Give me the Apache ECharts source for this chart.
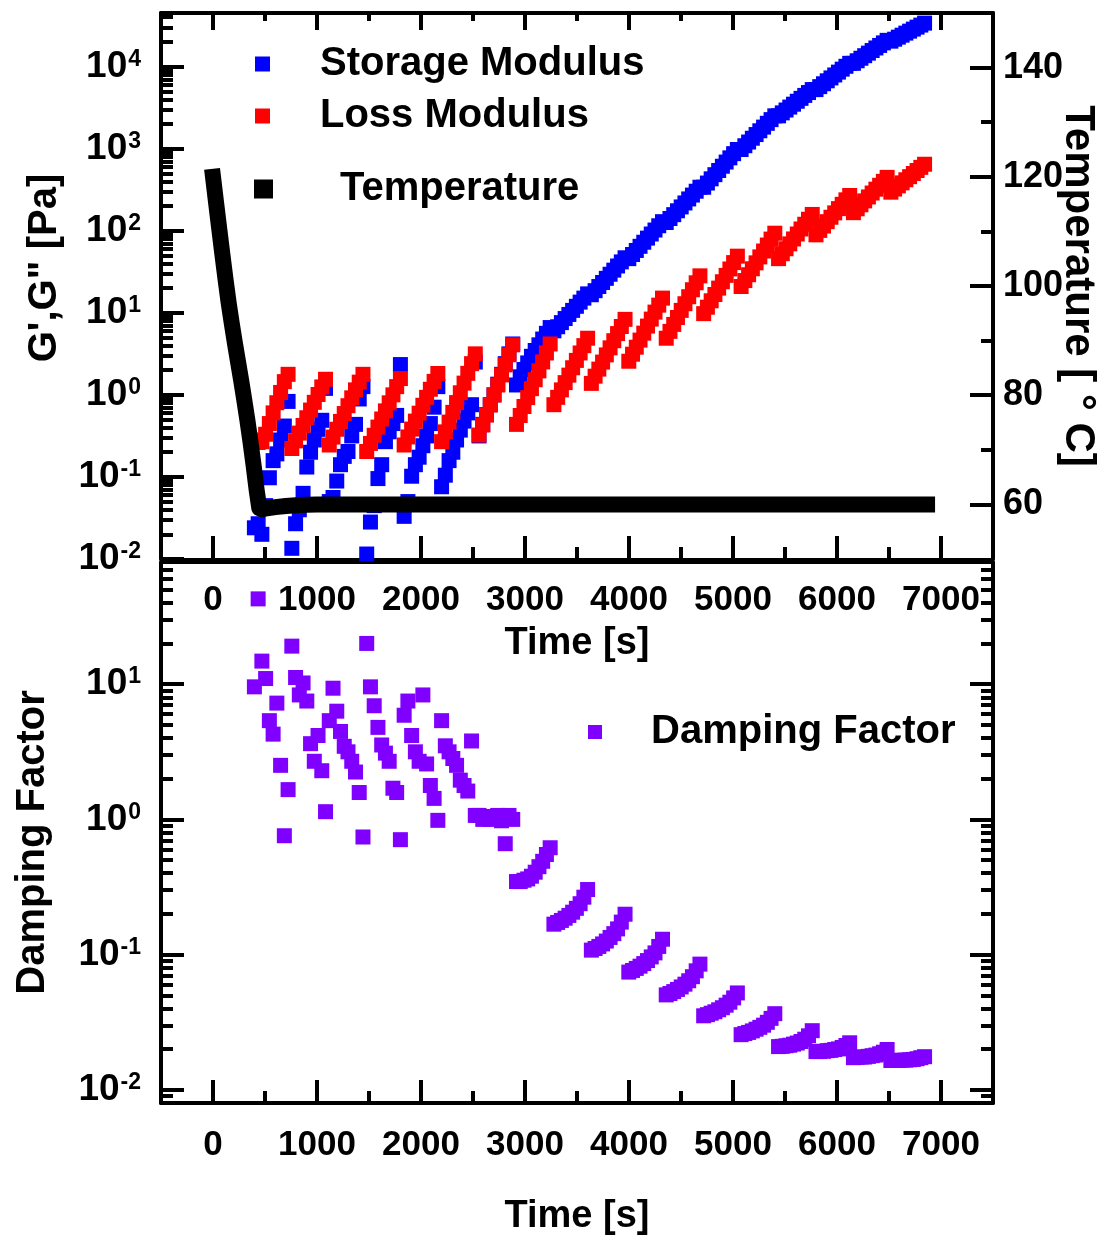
<!DOCTYPE html>
<html>
<head>
<meta charset="utf-8">
<title>Rheology time sweep</title>
<script src="https://cdn.jsdelivr.net/npm/echarts@6/dist/echarts.min.js"></script>
<style>
html, body { margin: 0; padding: 0; background: #ffffff; }
#chart { width: 1108px; height: 1241px; }
</style>
</head>
<body>
<div id="chart"></div>
<script>
// Sample times of the oscillatory measurement [s]
const time = [
  398, 434, 470, 506, 542, 578, 614, 650, 686, 722,
  758, 794, 830, 866, 902, 938, 974, 1010, 1046, 1082,
  1118, 1154, 1190, 1226, 1262, 1298, 1334, 1370, 1406, 1442,
  1478, 1514, 1550, 1586, 1622, 1658, 1694, 1730, 1766, 1802,
  1838, 1874, 1910, 1946, 1982, 2018, 2054, 2090, 2126, 2162,
  2198, 2234, 2270, 2306, 2342, 2378, 2414, 2450, 2486, 2522,
  2558, 2594, 2630, 2666, 2702, 2738, 2774, 2810, 2846, 2882,
  2918, 2954, 2990, 3026, 3062, 3098, 3134, 3170, 3206, 3242,
  3278, 3314, 3350, 3386, 3422, 3458, 3494, 3530, 3566, 3602,
  3638, 3674, 3710, 3746, 3782, 3818, 3854, 3890, 3926, 3962,
  3998, 4034, 4070, 4106, 4142, 4178, 4214, 4250, 4286, 4322,
  4358, 4394, 4430, 4466, 4502, 4538, 4574, 4610, 4646, 4682,
  4718, 4754, 4790, 4826, 4862, 4898, 4934, 4970, 5006, 5042,
  5078, 5114, 5150, 5186, 5222, 5258, 5294, 5330, 5366, 5402,
  5438, 5474, 5510, 5546, 5582, 5618, 5654, 5690, 5726, 5762,
  5798, 5834, 5870, 5906, 5942, 5978, 6014, 6050, 6086, 6122,
  6158, 6194, 6230, 6266, 6302, 6338, 6374, 6410, 6446, 6482,
  6518, 6554, 6590, 6626, 6662, 6698, 6734, 6770, 6806, 6842
];

// Storage modulus G' [Pa]
const storageModulus = [
  0.024, 0.0269, 0.020, 0.0447, 0.0977, 0.158, 0.191, 0.282, 0.417, 0.832,
  0.0135, 0.0269, 0.0398, 0.0631, 0.132, 0.200, 0.282, 0.380, 0.490, 1.20,
  0.0501, 0.0562, 0.0891, 0.141, 0.178, 0.204, 0.316, 0.437, 0.891, 1.26,
  0.0115, 0.0282, 0.0447, 0.0955, 0.141, 0.269, 0.355, 0.447, 0.562, 2.34,
  0.0331, 0.0501, 0.102, 0.141, 0.174, 0.240, 0.316, 0.447, 0.708, 1.26,
  0.0759, 0.105, 0.158, 0.200, 0.282, 0.372, 0.479, 0.603, 0.759, 2.51,
  0.316, 0.437, 0.575, 0.759, 1.00, 1.35, 1.78, 2.40, 3.16, 4.17,
  1.32, 1.66, 2.04, 2.45, 2.95, 3.47, 4.07, 4.79, 5.62, 6.61,
  6.03, 6.76, 7.59, 8.51, 9.55, 10.7, 12.0, 13.5, 15.1, 17.0,
  16.6, 18.6, 20.9, 23.4, 26.3, 29.5, 33.1, 37.2, 41.7, 46.8,
  45.7, 51.3, 57.5, 64.6, 72.4, 81.3, 91.2, 102, 115, 129,
  126, 141, 157, 175, 195, 218, 244, 272, 303, 339,
  339, 381, 429, 482, 542, 611, 687, 773, 869, 977,
  977, 1086, 1205, 1340, 1486, 1652, 1832, 2037, 2259, 2512,
  2512, 2729, 2958, 3214, 3483, 3784, 4102, 4457, 4831, 5248,
  5248, 5702, 6180, 6714, 7278, 7907, 8570, 9311, 10090, 10960,
  10960, 11780, 12650, 13580, 14590, 15700, 16870, 18110, 19450, 20890,
  20420, 21580, 22860, 24150, 25590, 27040, 28640, 30270, 32060, 33880
];

// Loss modulus G'' [Pa]
const lossModulus = [
  0.282, 0.263, 0.269, 0.331, 0.447, 0.603, 0.802, 1.07, 1.45, 1.78,
  0.222, 0.275, 0.342, 0.424, 0.526, 0.653, 0.811, 1.01, 1.25, 1.55,
  0.245, 0.306, 0.381, 0.475, 0.592, 0.738, 0.920, 1.15, 1.43, 1.78,
  0.204, 0.256, 0.322, 0.405, 0.508, 0.638, 0.800, 1.00, 1.26, 1.58,
  0.245, 0.307, 0.383, 0.479, 0.598, 0.747, 0.933, 1.17, 1.46, 1.82,
  0.269, 0.354, 0.466, 0.612, 0.805, 1.06, 1.39, 1.83, 2.40, 3.16,
  0.324, 0.429, 0.568, 0.753, 0.998, 1.32, 1.75, 2.32, 3.08, 4.07,
  0.437, 0.561, 0.721, 0.927, 1.19, 1.53, 1.96, 2.52, 3.24, 4.17,
  0.759, 0.933, 1.15, 1.41, 1.74, 2.14, 2.63, 3.24, 3.98, 4.90,
  1.38, 1.69, 2.06, 2.51, 3.07, 3.74, 4.57, 5.58, 6.81, 8.32,
  2.57, 3.13, 3.81, 4.65, 5.65, 6.89, 8.38, 10.2, 12.4, 15.1,
  4.90, 5.94, 7.22, 8.77, 10.7, 12.9, 15.7, 19.1, 23.2, 28.2,
  9.77, 11.7, 14.0, 16.7, 20.0, 23.9, 28.6, 34.2, 40.9, 49.0,
  20.9, 24.7, 29.1, 34.4, 40.6, 48.0, 56.6, 67.0, 79.1, 93.3,
  45.7, 52.5, 60.3, 69.2, 79.4, 91.2, 105, 120, 138, 158,
  89.1, 101, 114, 129, 146, 165, 186, 210, 238, 269,
  166, 185, 207, 231, 258, 288, 321, 358, 400, 447,
  295, 322, 352, 383, 418, 456, 498, 542, 592, 646
];

// Damping factor tan(delta) = G''/G'
const dampingFactor = [
  9.55, 42.7, 14.8, 11.0, 5.37, 4.27, 7.24, 2.51, 0.757, 1.66,
  19.1, 11.2, 8.32, 10.2, 7.50, 3.63, 2.69, 4.17, 2.29, 1.14,
  5.37, 9.33, 6.31, 4.47, 3.47, 3.16, 2.69, 2.24, 1.58, 0.741,
  20.0, 9.55, 6.92, 4.79, 3.55, 3.09, 2.69, 1.70, 1.58, 0.708,
  5.89, 7.50, 4.17, 3.16, 2.69, 8.32, 2.57, 1.78, 1.43, 0.984,
  5.37, 3.50, 3.16, 2.82, 2.51, 1.95, 1.78, 1.62, 3.80, 1.07,
  1.07, 1.00, 1.05, 1.00, 1.02, 1.07, 0.977, 0.661, 1.07, 1.00,
  0.347, 0.347, 0.355, 0.363, 0.380, 0.407, 0.447, 0.490, 0.550, 0.617,
  0.168, 0.173, 0.179, 0.186, 0.195, 0.206, 0.220, 0.238, 0.266, 0.303,
  0.108, 0.111, 0.115, 0.120, 0.126, 0.134, 0.143, 0.155, 0.174, 0.199,
  0.0743, 0.0764, 0.0791, 0.0822, 0.0859, 0.0904, 0.0962, 0.103, 0.115, 0.130,
  0.0504, 0.0516, 0.0533, 0.0553, 0.0577, 0.0605, 0.0641, 0.0687, 0.0759, 0.0851,
  0.0353, 0.0360, 0.0369, 0.0378, 0.0391, 0.0405, 0.0423, 0.0445, 0.0479, 0.0521,
  0.0256, 0.0261, 0.0266, 0.0273, 0.0281, 0.0290, 0.0301, 0.0316, 0.0338, 0.0366,
  0.0209, 0.0210, 0.0212, 0.0214, 0.0218, 0.0222, 0.0228, 0.0237, 0.0251, 0.0274,
  0.0192, 0.0192, 0.0193, 0.0195, 0.0196, 0.0199, 0.0201, 0.0206, 0.0213, 0.0223,
  0.0173, 0.0174, 0.0175, 0.0175, 0.0177, 0.0179, 0.0181, 0.0185, 0.0190, 0.0199,
  0.0165, 0.0165, 0.0165, 0.0166, 0.0166, 0.0167, 0.0168, 0.0170, 0.0173, 0.0176
];

// Sample temperature: cool-down from 120 °C, then hold at 60 °C
const tempTime  = [0, 30, 60, 90, 120, 150, 180, 210, 240, 270, 300, 330, 360, 390, 420, 445, 470, 520, 600, 700, 800, 900, 1000, 6866];
const tempValue = [120, 115.2, 110.5, 105.8, 101.3, 97.0, 93.2, 89.6, 86.2, 82.8, 79.2, 75.5, 71.5, 67.2, 62.6, 59.3, 59.1, 59.3, 59.5, 59.7, 59.85, 59.95, 60, 60];

// Tick positions and labels
const timeTicks = [0, 1000, 2000, 3000, 4000, 5000, 6000, 7000];
const timeMinorTicks = [500, 1500, 2500, 3500, 4500, 5500, 6500];
const modulusTicks = [0.01, 0.1, 1, 10, 100, 1000, 10000];
const dampingTicks = [0.01, 0.1, 1, 10];
const tempTicks = [60, 80, 100, 120, 140];
const tempMinorTicks = [70, 90, 110, 130];

function logMinorTicks(lo, hi) {
  const out = [];
  for (let e = -3; e <= 5; e++) {
    for (let k = 2; k <= 9; k++) {
      const v = +(k * Math.pow(10, e)).toPrecision(6);
      if (v > lo && v < hi) out.push(v);
    }
  }
  return out;
}

const FONT = '"Liberation Sans", Arial, Helvetica, sans-serif';
const BLACK = '#000000';
const txt = (size) => ({ fontSize: size, fontWeight: 'bold', fontFamily: FONT, color: BLACK });

const modMin = 0.01, modMax = 45000;
const dampMin = 0.008, dampMax = 80;

function powLabel(v) {
  const e = Math.round(Math.log10(v));
  return '{b|10}{s|' + e + '}';
}
const powRich = {
  b: txt(37),
  s: Object.assign(txt(23), { verticalAlign: 'top', padding: [0, 0, 0, 1] })
};
const plainNumber = (v) => String(v);

function xAxisBase(grid, position, extra) {
  return Object.assign({
    gridIndex: grid, type: 'value', position: position, min: -500, max: 7500,
    splitLine: { show: false },
    axisLine: { show: false, onZero: false },
    axisTick: { show: false },
    axisLabel: { show: false }
  }, extra);
}
function tickStyle(len, values) {
  return { show: true, inside: true, length: len, customValues: values, lineStyle: { color: BLACK, width: 4 } };
}

const chart = echarts.init(document.getElementById('chart'), null, { renderer: 'canvas' });

chart.setOption({
  animation: false,
  backgroundColor: '#ffffff',
  grid: [
    { left: 161, top: 13, width: 832, height: 546, outerBoundsMode: 'none' },
    { left: 161, top: 562, width: 832, height: 541, outerBoundsMode: 'none' }
  ],
  legend: [
    {
      data: [{ name: 'Storage Modulus', icon: 'rect' }, { name: 'Loss Modulus', icon: 'rect' }],
      orient: 'vertical', left: 255, top: 44, padding: 0,
      itemWidth: 15, itemHeight: 15, itemGap: 12, selectedMode: false,
      textStyle: Object.assign(txt(40), { lineHeight: 40, padding: [0, 0, 0, 45] })
    },
    {
      data: [{ name: 'Temperature', icon: 'rect' }],
      orient: 'vertical', left: 254, top: 169, padding: 0,
      itemWidth: 19, itemHeight: 19, selectedMode: false,
      textStyle: Object.assign(txt(40), { lineHeight: 40, padding: [0, 0, 0, 62] })
    },
    {
      data: [{ name: 'Damping Factor', icon: 'rect' }],
      orient: 'vertical', left: 588, top: 712, padding: 0,
      itemWidth: 14, itemHeight: 14, selectedMode: false,
      textStyle: Object.assign(txt(40), { lineHeight: 40, padding: [0, 0, 0, 44] })
    }
  ],
  xAxis: [
    // upper panel, bottom edge
    xAxisBase(0, 'bottom', {
      axisLine: { show: true, onZero: false, lineStyle: { color: BLACK, width: 3 } },
      axisTick: tickStyle(23, timeTicks),
      axisLabel: Object.assign(txt(35), { show: true, customValues: timeTicks, margin: 24, formatter: plainNumber }),
      name: 'Time [s]', nameLocation: 'middle', nameGap: 66, nameTextStyle: txt(38)
    }),
    xAxisBase(0, 'bottom', { axisTick: tickStyle(12, timeMinorTicks) }),
    // upper panel, top edge
    xAxisBase(0, 'top', {
      axisLine: { show: true, onZero: false, lineStyle: { color: BLACK, width: 4 } },
      axisTick: tickStyle(17, timeTicks)
    }),
    xAxisBase(0, 'top', { axisTick: tickStyle(8, timeMinorTicks) }),
    // lower panel, bottom edge
    xAxisBase(1, 'bottom', {
      axisLine: { show: true, onZero: false, lineStyle: { color: BLACK, width: 4 } },
      axisTick: tickStyle(23, timeTicks),
      axisLabel: Object.assign(txt(35), { show: true, customValues: timeTicks, margin: 25, formatter: plainNumber }),
      name: 'Time [s]', nameLocation: 'middle', nameGap: 95, nameTextStyle: txt(38)
    }),
    xAxisBase(1, 'bottom', { axisTick: tickStyle(12, timeMinorTicks) }),
    // lower panel, top edge
    xAxisBase(1, 'top', {
      axisLine: { show: true, onZero: false, lineStyle: { color: BLACK, width: 3 } }
    })
  ],
  yAxis: [
    // G', G'' (log)
    {
      gridIndex: 0, type: 'log', logBase: 10, position: 'left', min: modMin, max: modMax,
      splitLine: { show: false },
      axisLine: { show: true, onZero: false, lineStyle: { color: BLACK, width: 4 } },
      axisTick: tickStyle(23, modulusTicks),
      axisLabel: { show: true, customValues: modulusTicks, margin: 20, formatter: powLabel, rich: powRich },
      name: 'G\',G" [Pa]', nameLocation: 'middle', nameRotate: 90, nameGap: 96,
      nameTextStyle: Object.assign(txt(40), { padding: [0, 0, 0, 36] })
    },
    {
      gridIndex: 0, type: 'log', logBase: 10, position: 'left', min: modMin, max: modMax,
      splitLine: { show: false }, axisLine: { show: false, onZero: false },
      axisTick: tickStyle(12, logMinorTicks(modMin, modMax)), axisLabel: { show: false }
    },
    // temperature
    {
      gridIndex: 0, type: 'value', position: 'right', min: 50, max: 150,
      splitLine: { show: false },
      axisLine: { show: true, onZero: false, lineStyle: { color: BLACK, width: 4 } },
      axisTick: tickStyle(23, tempTicks),
      axisLabel: Object.assign(txt(36), { show: true, customValues: tempTicks, margin: 10 }),
      name: 'Temperature [ \u00B0 C]', nameLocation: 'middle', nameRotate: -90, nameGap: 64,
      nameMoveOverlap: false,
      nameTextStyle: txt(42)
    },
    {
      gridIndex: 0, type: 'value', position: 'right', min: 50, max: 150,
      splitLine: { show: false }, axisLine: { show: false, onZero: false },
      axisTick: tickStyle(12, tempMinorTicks), axisLabel: { show: false }
    },
    // damping factor (log)
    {
      gridIndex: 1, type: 'log', logBase: 10, position: 'left', min: dampMin, max: dampMax,
      splitLine: { show: false },
      axisLine: { show: true, onZero: false, lineStyle: { color: BLACK, width: 4 } },
      axisTick: tickStyle(23, dampingTicks),
      axisLabel: { show: true, customValues: dampingTicks, margin: 20, formatter: powLabel, rich: powRich },
      name: 'Damping Factor', nameLocation: 'middle', nameRotate: 90, nameGap: 108,
      nameTextStyle: Object.assign(txt(40), { padding: [0, 20, 0, 0] })
    },
    {
      gridIndex: 1, type: 'log', logBase: 10, position: 'left', min: dampMin, max: dampMax,
      splitLine: { show: false }, axisLine: { show: false, onZero: false },
      axisTick: tickStyle(12, logMinorTicks(dampMin, dampMax)), axisLabel: { show: false }
    },
    {
      gridIndex: 1, type: 'log', logBase: 10, position: 'right', min: dampMin, max: dampMax,
      splitLine: { show: false },
      axisLine: { show: true, onZero: false, lineStyle: { color: BLACK, width: 4 } },
      axisTick: tickStyle(23, dampingTicks), axisLabel: { show: false }
    },
    {
      gridIndex: 1, type: 'log', logBase: 10, position: 'right', min: dampMin, max: dampMax,
      splitLine: { show: false }, axisLine: { show: false, onZero: false },
      axisTick: tickStyle(12, logMinorTicks(dampMin, dampMax)), axisLabel: { show: false }
    }
  ],
  series: [
    {
      name: 'Storage Modulus', type: 'scatter', xAxisIndex: 0, yAxisIndex: 0,
      symbol: 'rect', symbolSize: 15, itemStyle: { color: '#0000FF', opacity: 1 },
      data: time.map((t, i) => [t, storageModulus[i]]), z: 2
    },
    {
      name: 'Loss Modulus', type: 'scatter', xAxisIndex: 0, yAxisIndex: 0,
      symbol: 'rect', symbolSize: 15, itemStyle: { color: '#FF0000', opacity: 1 },
      data: time.map((t, i) => [t, lossModulus[i]]), z: 3
    },
    {
      name: 'Temperature', type: 'line', xAxisIndex: 0, yAxisIndex: 2,
      symbol: 'none', itemStyle: { color: BLACK },
      lineStyle: { color: BLACK, width: 16, cap: 'square', join: 'round' },
      data: tempTime.map((t, i) => [t, tempValue[i]]), z: 4
    },
    {
      name: 'Damping Factor', type: 'scatter', xAxisIndex: 4, yAxisIndex: 4,
      symbol: 'rect', symbolSize: 15, itemStyle: { color: '#7F00FF', opacity: 1 },
      data: time.map((t, i) => [t, dampingFactor[i]]), z: 2
    }
  ]
});
</script>
</body>
</html>
